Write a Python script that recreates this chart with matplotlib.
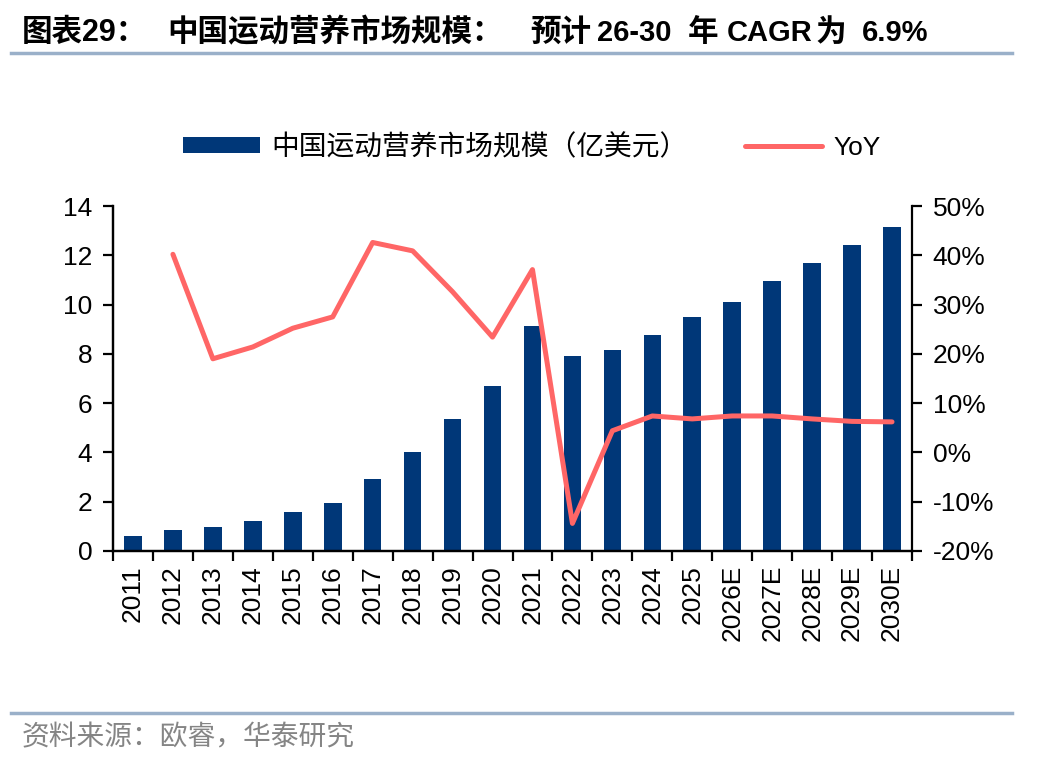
import matplotlib
matplotlib.use("Agg")
import matplotlib.pyplot as plt
from matplotlib.lines import Line2D
from matplotlib.ticker import FuncFormatter, MultipleLocator
import numpy as np

plt.rcParams['font.family'] = ['Liberation Sans', 'Noto Sans CJK SC', 'DejaVu Sans']

years = ['2011', '2012', '2013', '2014', '2015', '2016', '2017', '2018', '2019', '2020',
         '2021', '2022', '2023', '2024', '2025', '2026E', '2027E', '2028E', '2029E', '2030E']
market = [0.60, 0.84, 0.96, 1.21, 1.57, 1.94, 2.91, 4.01, 5.35, 6.69,
          9.13, 7.91, 8.16, 8.77, 9.50, 10.11, 10.96, 11.69, 12.42, 13.16]
yoy = [np.nan, 40.2, 19.0, 21.4, 25.2, 27.5, 42.6, 40.9, 32.6, 23.4,
       37.1, -14.4, 4.4, 7.4, 6.8, 7.4, 7.4, 6.8, 6.3, 6.2]

# title pieces (text, left x in px, font size)
title_parts = [('图表29：', 22, 22), ('中国运动营养市场规模：', 167, 22), ('预计', 530, 22),
               ('26-30', 597, 21), ('年', 688, 22), ('CAGR', 727, 21), ('为', 815, 22),
               ('6.9%', 862, 21)]
bar_label = '中国运动营养市场规模（亿美元）'
line_label = 'YoY'
source = '资料来源：欧睿，华泰研究'

BAR_C = '#003778'
LINE_C = '#FF6666'
RULE_C = '#9AB0C9'

W, H = 1048, 760
fig = plt.figure(figsize=(W / 100, H / 100), dpi=100)
ax = fig.add_axes([113/W, 1-551/H, (912-113)/W, (551-206)/H])
ax2 = ax.twinx()

x = np.arange(len(years))
bars = ax.bar(x, market, width=0.44, color=BAR_C, label=bar_label, zorder=2)
ln, = ax2.plot(x, np.array(yoy) / 100, color=LINE_C, lw=3.6, label=line_label,
               solid_capstyle='round', solid_joinstyle='round')

ax.set_xlim(-0.5, len(years) - 0.5)
ax.set_ylim(0, 14)
ax.yaxis.set_major_locator(MultipleLocator(2))
ax2.set_ylim(-0.2, 0.5)
ax2.yaxis.set_major_locator(MultipleLocator(0.1))
ax2.yaxis.set_major_formatter(FuncFormatter(lambda v, p: f'{v*100:.0f}%'))

ax.set_xticks(x)
ax.set_xticklabels(years, rotation=90)
ax.set_xticks(np.arange(-0.5, len(years), 1.0), minor=True)
ax.tick_params(axis='x', which='major', length=0, pad=10, labelsize=19)
ax.tick_params(axis='x', which='minor', length=7, width=1.6, direction='out')
ax.tick_params(axis='y', length=7, width=1.6, direction='out', labelsize=19, pad=8)
ax2.tick_params(axis='y', length=7, width=1.6, direction='out', labelsize=19, pad=8)

for a in (ax, ax2):
    a.spines['top'].set_visible(False)
    for s in ('left', 'right', 'bottom'):
        a.spines[s].set_linewidth(1.6)
ax.spines['right'].set_visible(False)

# legend
leg = fig.legend([bars, ln], [bar_label, line_label], loc='center',
                 bbox_to_anchor=(532/W, 1-148/H), ncol=2, frameon=False,
                 fontsize=20, handlelength=2.77, handleheight=0.5,
                 columnspacing=2.05, handletextpad=0.43)
leg.get_texts()[1].set_fontsize(19)

# title & rules
for txt, px, fs in title_parts:
    fig.text(px/W, 1-33/H, txt, fontsize=fs, fontweight='bold', va='center', ha='left')
fig.add_artist(Line2D([11/W, 1012/W], [1-53/H, 1-53/H], color=RULE_C, lw=2.5))
fig.add_artist(Line2D([11/W, 1012/W], [1-713/H, 1-713/H], color=RULE_C, lw=2.5))
fig.text(22/W, 1-738/H, source, fontsize=20, color='#858585', va='center', ha='left')

fig.savefig('out.png', dpi=100)
